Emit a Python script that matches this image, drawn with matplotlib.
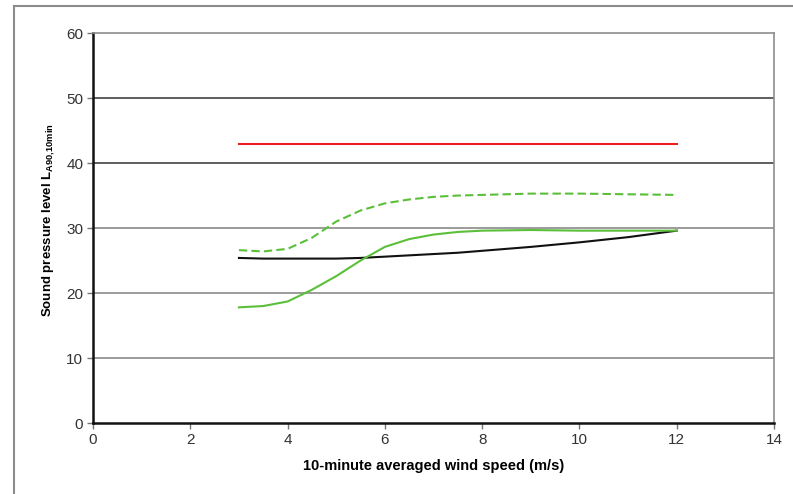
import matplotlib.pyplot as plt
from matplotlib.lines import Line2D

plt.rcParams['font.family'] = ['Liberation Sans', 'DejaVu Sans']
plt.rcParams['mathtext.fontset'] = 'custom'
plt.rcParams['mathtext.rm'] = 'Liberation Sans'
plt.rcParams['mathtext.bf'] = 'Liberation Sans:bold'

# wind speed (m/s)
wind = [3, 3.5, 4, 4.5, 5, 5.5, 6, 6.5, 7, 7.5, 8, 9, 10, 11, 12]
limit = [43] * len(wind)
green_dashed = [26.6, 26.4, 26.8, 28.5, 31.0, 32.7, 33.8, 34.4, 34.8, 35.0, 35.1, 35.3, 35.3, 35.2, 35.1]
green_solid = [17.8, 18.0, 18.7, 20.5, 22.6, 25.0, 27.1, 28.3, 29.0, 29.4, 29.6, 29.7, 29.6, 29.6, 29.6]
black_line = [25.4, 25.3, 25.3, 25.3, 25.3, 25.4, 25.6, 25.8, 26.0, 26.2, 26.5, 27.1, 27.8, 28.6, 29.6]

fig = plt.figure(figsize=(7.93, 4.94), dpi=100)
ax = fig.add_axes([0.1173, 0.1437, 0.8587, 0.7893])

# outer frame (top and left only)
fig.add_artist(Line2D([14/793, 14/793], [0, 1 - 6/494], color='#8c8c8c', lw=1.5))
fig.add_artist(Line2D([14/793, 1], [1 - 6/494, 1 - 6/494], color='#8c8c8c', lw=1.5))

for y in [10, 20, 30, 40, 50]:
    c = '#333333' if y >= 40 else '#808080'
    ax.axhline(y, color=c, lw=1.1, zorder=1)

ax.plot(wind, limit, color='#ee1c24', lw=1.5, zorder=3)
ax.plot(wind, green_dashed, color='#5bbf3a', lw=1.5, ls=(0, (4, 2)), zorder=3)
ax.plot(wind, green_solid, color='#5bbf3a', lw=1.5, zorder=3)
ax.plot(wind, black_line, color='#111111', lw=1.5, zorder=2)

ax.set_xlim(0, 14)
ax.set_ylim(0, 60)
ax.set_xticks(range(0, 15, 2))
ax.set_yticks(range(0, 61, 10))
ax.tick_params(direction='out', length=4, width=1, labelsize=11, labelcolor='#333333', color='#777777', pad=3)

for s in ['left', 'bottom']:
    ax.spines[s].set_color('#111111')
    ax.spines[s].set_linewidth(1.8)
for s in ['top', 'right']:
    ax.spines[s].set_color('#8c8c8c')
    ax.spines[s].set_linewidth(1.2)

ax.set_xlabel('10-minute averaged wind speed (m/s)', fontsize=10.5, fontweight='bold', labelpad=9)
ax.set_ylabel(r'Sound pressure level L$_{\mathbf{A90{,}10min}}$', fontsize=9.5, fontweight='bold')
ax.yaxis.set_label_coords(-0.053, 0.52)

fig.savefig('out.png', dpi=100)
